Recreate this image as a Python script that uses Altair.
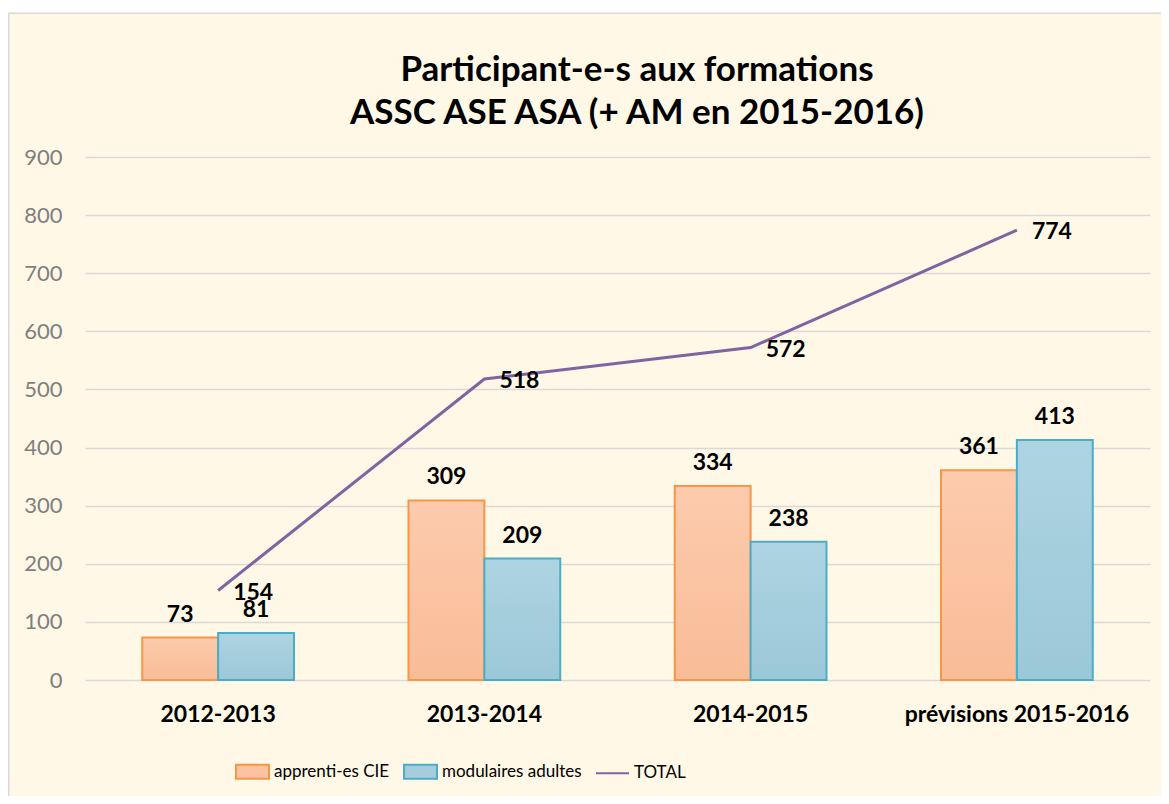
import altair as alt
import pandas as pd

# ---- data ----
categories = ["2012-2013", "2013-2014", "2014-2015", "prévisions 2015-2016"]
apprentis = [73, 309, 334, 361]
modulaires = [81, 209, 238, 413]
totals = [154, 518, 572, 774]
series_names = ["apprenti-es CIE", "modulaires adultes", "TOTAL"]
y_ticks = [0, 100, 200, 300, 400, 500, 600, 700, 800, 900]
title_lines = ["Participant-e-s aux formations", "ASSC ASE ASA (+ AM en 2015-2016)"]

FONT = "Lato"
ORANGE_STROKE = "#F79646"
BLUE_STROKE = "#4BACC6"
PURPLE = "#8064A2"

df_bars = pd.DataFrame({
    "annee": categories * 2,
    "serie": [series_names[0]] * len(categories) + [series_names[1]] * len(categories),
    "valeur": apprentis + modulaires,
})
df_total = pd.DataFrame({"annee": categories, "valeur": totals})
df_legend = pd.DataFrame({"annee": [categories[0]] * 3, "serie": series_names, "valeur": [-500] * 3})
df_one = pd.DataFrame({"k": [0]})

x_enc = alt.X(
    "annee:N", sort=categories,
    scale=alt.Scale(domain=categories, paddingInner=0.43, paddingOuter=0.215),
    axis=alt.Axis(title=None, labelAngle=0, labelFontWeight="bold", labelFontSize=23,
                  labelColor="#000000", labelFont=FONT, labelPadding=23, labelLimit=400,
                  domain=False, ticks=False, grid=False),
)
y_enc = alt.Y(
    "valeur:Q",
    scale=alt.Scale(domain=[0, 900], nice=False),
    axis=alt.Axis(title=None, values=y_ticks, grid=True, gridColor="#D9D9D9", gridWidth=1.3,
                  domain=False, ticks=False, labelColor="#7F7F7F", labelFontSize=22,
                  labelFont=FONT, labelPadding=23),
)
xoff = alt.XOffset("serie:N", scale=alt.Scale(domain=series_names[:2], paddingInner=0, paddingOuter=0))

grad_orange = alt.Gradient(gradient="linear", x1=0, x2=0, y1=0, y2=1,
                           stops=[alt.GradientStop(color="#FCCBAD", offset=0),
                                  alt.GradientStop(color="#F9BC98", offset=1)])
grad_blue = alt.Gradient(gradient="linear", x1=0, x2=0, y1=0, y2=1,
                         stops=[alt.GradientStop(color="#AED4E2", offset=0),
                                alt.GradientStop(color="#9BC8D8", offset=1)])

base_bars = alt.Chart(df_bars)
bars_o = base_bars.transform_filter(alt.datum.serie == series_names[0]).mark_bar(
    fill=grad_orange, stroke=ORANGE_STROKE, strokeWidth=2
).encode(x=x_enc, xOffset=xoff, y=y_enc)
bars_b = base_bars.transform_filter(alt.datum.serie == series_names[1]).mark_bar(
    fill=grad_blue, stroke=BLUE_STROKE, strokeWidth=2
).encode(x=x_enc, xOffset=xoff, y=y_enc)
bar_labels = base_bars.mark_text(
    font=FONT, fontSize=23, fontWeight="bold", color="#000000", baseline="alphabetic", dy=-16
).encode(x=x_enc, xOffset=xoff, y=y_enc, text="valeur:Q")

line = alt.Chart(df_total).mark_line(color=PURPLE, strokeWidth=3).encode(x=x_enc, y=y_enc)
line_labels = alt.Chart(df_total).mark_text(
    font=FONT, fontSize=23, fontWeight="bold", color="#000000", align="left", baseline="middle",
    dx=15, dy=2
).encode(x=x_enc, y=y_enc, text="valeur:Q")

legend_props = dict(title=None, orient="none", legendX=150, legendY=597, direction="horizontal",
                    symbolSize=1089, symbolStrokeWidth=2, labelFontSize=17, labelFont=FONT,
                    labelColor="#000000", columnPadding=10, labelOffset=4)
rect_path = "M-1,-0.42H1V0.42H-1Z"
line_path = "M-1,0H1"
legend_pts = alt.Chart(df_legend).mark_point(clip=True, opacity=1).encode(
    x=x_enc, y=y_enc,
    fill=alt.Fill("serie:N", scale=alt.Scale(domain=series_names, range=["#FBC3A1", "#A5CEDD", "transparent"]),
                  legend=alt.Legend(**legend_props)),
    stroke=alt.Stroke("serie:N", scale=alt.Scale(domain=series_names, range=[ORANGE_STROKE, BLUE_STROKE, PURPLE]),
                      legend=alt.Legend(**legend_props)),
    shape=alt.Shape("serie:N", scale=alt.Scale(domain=series_names, range=[rect_path, rect_path, line_path]),
                    legend=alt.Legend(**legend_props)),
)

# chart title (two lines)
title1 = alt.Chart(df_one).mark_text(
    font=FONT, fontSize=35, fontWeight="bold", color="#000000", align="center", baseline="middle"
).encode(x=alt.value(552), y=alt.value(-87), text=alt.value(title_lines[0]))
title2 = alt.Chart(df_one).mark_text(
    font=FONT, fontSize=35, fontWeight="bold", color="#000000", align="center", baseline="middle"
).encode(x=alt.value(552), y=alt.value(-44), text=alt.value(title_lines[1]))

# decorative frame of the chart area
frame_top_white = alt.Chart(df_one).mark_rect(color="white").encode(
    x=alt.value(-77), x2=alt.value(1080), y=alt.value(-150), y2=alt.value(-144.5))
frame_left = alt.Chart(df_one).mark_rule(color="#D9D9D9", strokeWidth=1.5).encode(
    x=alt.value(-76.3), y=alt.value(-144), y2=alt.value(640))
frame_top = alt.Chart(df_one).mark_rule(color="#D9D9D9", strokeWidth=1.5).encode(
    x=alt.value(-77), x2=alt.value(1080), y=alt.value(-143.8))

chart = alt.layer(
    frame_top_white, frame_left, frame_top, title1, title2,
    bars_o, bars_b, line, bar_labels, line_labels, legend_pts
).properties(
    width=1065, height=523,
    padding={"left": 77, "top": 149, "right": 11, "bottom": 116},
    autosize="none",
    background="#FFF8E6",
).configure_view(stroke=None)

chart.save("out.html", embed_options={"renderer": "svg", "actions": False})
